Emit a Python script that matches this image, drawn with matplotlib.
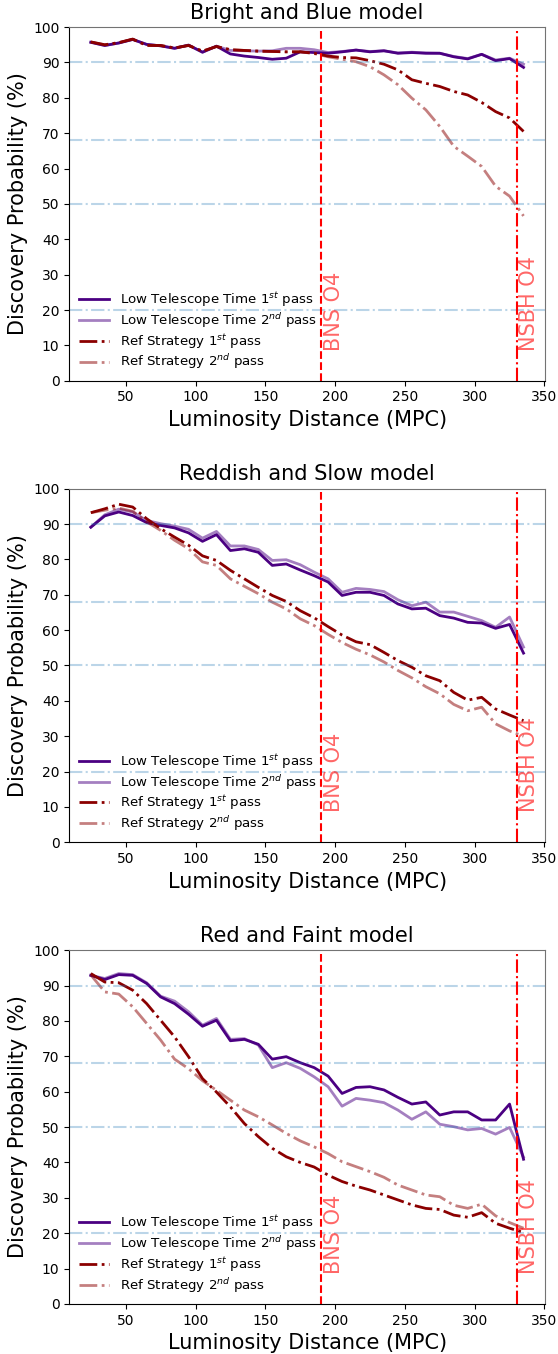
import numpy as np
import matplotlib
matplotlib.use("Agg")
import matplotlib.pyplot as plt

# luminosity distance bins (MPC)
distance = [25, 35, 45, 55, 65, 75, 85, 95, 105, 115, 125, 135, 145, 155, 165, 175,
            185, 195, 205, 215, 225, 235, 245, 255, 265, 275, 285, 295, 305, 315, 325, 335]

titles = ["Bright and Blue model", "Reddish and Slow model", "Red and Faint model"]

# Bright and Blue
lt1_blue = [95.7, 94.8, 95.5, 96.5, 95.1, 94.7, 94.0, 94.9, 92.9, 94.6, 92.4, 91.8, 91.4, 90.9, 91.2, 93.0,
            92.8, 92.6, 93.0, 93.5, 93.0, 93.3, 92.6, 92.8, 92.6, 92.6, 91.6, 91.0, 92.3, 90.5, 91.1, 88.6]
lt2_blue = [95.7, 94.8, 95.5, 96.5, 95.1, 94.7, 94.0, 94.9, 92.9, 94.6, 93.4, 93.3, 93.2, 93.3, 94.0, 94.0,
            93.6, 92.8, 93.1, 93.5, 93.1, 93.3, 92.7, 92.9, 92.7, 92.6, 91.7, 91.1, 92.3, 90.7, 91.2, 89.5]
ref1_blue = [95.8, 95.0, 95.6, 96.6, 94.8, 94.8, 94.1, 94.8, 93.2, 94.5, 93.6, 93.4, 93.2, 93.1, 93.0, 93.0,
             92.6, 91.8, 91.4, 91.3, 90.5, 89.5, 87.9, 85.1, 84.1, 83.2, 81.8, 80.8, 78.7, 76.1, 74.3, 70.5]
ref2_blue = [95.8, 95.0, 95.6, 96.6, 94.8, 94.8, 94.1, 94.8, 93.2, 94.5, 93.6, 93.4, 93.2, 93.1, 93.0, 93.0,
             92.5, 91.6, 90.9, 90.2, 88.8, 86.5, 83.7, 79.9, 76.6, 71.9, 66.3, 63.5, 60.6, 55.0, 52.2, 46.6]

# Reddish and Slow
lt1_red = [89.1, 92.3, 93.4, 92.4, 90.4, 89.6, 88.9, 87.5, 85.1, 87.0, 82.5, 83.0, 82.0, 78.3, 78.7, 77.0,
           75.4, 73.6, 69.8, 70.7, 70.7, 69.8, 67.4, 66.0, 66.2, 64.1, 63.4, 62.2, 62.0, 60.5, 61.6, 53.5]
lt2_red = [89.1, 92.6, 94.2, 93.4, 91.0, 90.1, 89.4, 88.5, 86.0, 87.9, 83.8, 83.8, 82.8, 79.7, 79.9, 78.5,
           76.4, 74.5, 70.7, 71.8, 71.5, 70.9, 68.6, 66.9, 67.9, 65.1, 65.1, 63.9, 62.7, 60.8, 63.7, 55.2]
ref1_red = [93.2, 94.3, 95.6, 94.8, 91.5, 88.7, 86.3, 84.0, 81.0, 79.7, 76.9, 74.5, 72.1, 69.8, 68.1, 65.5,
            63.5, 61.0, 58.6, 56.7, 55.9, 53.7, 51.4, 49.5, 47.1, 45.7, 42.4, 40.2, 41.0, 37.7, 36.0, 34.4]
ref2_red = [93.2, 93.9, 94.5, 93.6, 90.6, 88.2, 85.4, 83.0, 79.3, 78.3, 74.5, 72.4, 70.3, 67.9, 66.0, 63.2,
            61.3, 58.8, 56.5, 54.6, 53.0, 51.0, 48.6, 46.5, 44.0, 42.0, 39.0, 37.2, 38.2, 33.5, 31.5, 30.0]

# Red and Faint
lt1_faint = [92.9, 91.7, 93.1, 92.9, 90.6, 86.8, 84.9, 81.9, 78.5, 80.2, 74.4, 74.8, 73.4, 69.2, 69.9, 68.2,
             66.8, 64.4, 59.5, 61.2, 61.4, 60.5, 58.4, 56.5, 57.1, 53.4, 54.3, 54.3, 52.0, 52.0, 56.5, 40.9]
lt2_faint = [92.9, 92.0, 93.4, 93.1, 90.8, 87.0, 85.6, 82.6, 78.8, 80.7, 74.8, 75.0, 73.2, 66.8, 68.2, 66.6,
             64.2, 61.4, 55.9, 58.1, 57.6, 56.9, 54.8, 52.2, 54.3, 50.8, 50.1, 49.2, 49.6, 48.0, 49.9, 41.5]
ref1_faint = [93.4, 91.0, 90.8, 88.7, 84.9, 80.2, 75.5, 69.9, 63.7, 59.9, 55.7, 51.0, 47.3, 44.0, 41.6, 40.0,
              38.7, 36.4, 34.6, 33.3, 32.2, 30.8, 29.4, 28.0, 27.0, 26.7, 25.1, 24.5, 25.8, 22.8, 21.4, 20.2]
ref2_faint = [93.0, 88.2, 87.6, 84.0, 79.3, 74.6, 69.2, 66.5, 63.1, 60.4, 57.6, 54.8, 52.9, 50.6, 48.2, 46.1,
              44.4, 42.5, 40.2, 38.8, 37.4, 35.8, 33.6, 32.2, 30.8, 30.3, 27.9, 27.0, 28.2, 24.9, 23.0, 21.4]

models = [(lt1_blue, lt2_blue, ref1_blue, ref2_blue),
          (lt1_red, lt2_red, ref1_red, ref2_red),
          (lt1_faint, lt2_faint, ref1_faint, ref2_faint)]

ref_levels = [90, 68, 50, 20]
bns_o4 = 190
nsbh_o4 = 330

fig, axes = plt.subplots(3, 1, figsize=(5.58, 13.54), dpi=100)
plt.subplots_adjust(left=0.124, right=0.977, top=0.980, bottom=0.037, hspace=0.305)

for ax, title, (lt1, lt2, ref1, ref2) in zip(axes, titles, models):
    ax.plot(distance, lt1, color="indigo", lw=2, label="Low Telescope Time 1$^{st}$ pass")
    ax.plot(distance, lt2, color="indigo", lw=2, alpha=0.5, label="Low Telescope Time 2$^{nd}$ pass")
    ax.plot(distance, ref1, color="darkred", lw=2, ls="-.", label="Ref Strategy 1$^{st}$ pass")
    ax.plot(distance, ref2, color="darkred", lw=2, ls="-.", alpha=0.5, label="Ref Strategy 2$^{nd}$ pass")
    for lev in ref_levels:
        ax.axhline(lev, color="C0", alpha=0.3, ls="-.", lw=1.5)
    ax.axvline(bns_o4, color="red", ls="--", lw=1.5)
    ax.axvline(nsbh_o4, color="red", ls="-.", lw=1.5)
    ax.text(bns_o4 + 2, 8.5, "BNS O4", rotation=90, color="red", alpha=0.6,
            fontsize=15, ha="left", va="bottom")
    ax.text(nsbh_o4 + 2, 8.5, "NSBH O4", rotation=90, color="red", alpha=0.6,
            fontsize=15, ha="left", va="bottom")
    ax.set_ylim(0, 100)
    ax.set_yticks(np.arange(0, 101, 10))
    ax.set_xlim(9.5, 350.5)
    ax.set_xticks([50, 100, 150, 200, 250, 300, 350])
    ax.set_title(title, fontsize=15)
    ax.set_xlabel("Luminosity Distance (MPC)", fontsize=15)
    ax.set_ylabel("Discovery Probability (%)", fontsize=15)
    ax.spines["top"].set_color("0.45")
    ax.spines["right"].set_color("0.45")
    ax.legend(loc="lower left", frameon=False, fontsize=9.6, labelspacing=0.15,
              handlelength=2.3, borderaxespad=0.3)

plt.savefig("out.png")
